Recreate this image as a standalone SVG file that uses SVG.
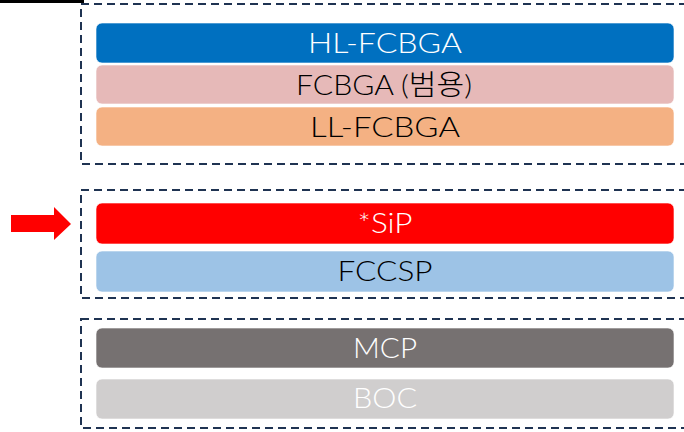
<svg xmlns="http://www.w3.org/2000/svg" width="684" height="432" viewBox="0 0 684 432">
  <defs>
    <style>
      .group { fill: none; stroke: #1F3352; stroke-width: 2; stroke-dasharray: 8 5; }
      .bar { stroke: #ffffff; stroke-width: 1; stroke-opacity: 0.6; }
      .lbl { font-family: "Lato", "Noto Sans CJK KR", sans-serif; font-size: 28px; font-weight: 300; text-anchor: middle; }
      .dark { fill: #000000; }
      .light { fill: #ffffff; }
    </style>
  </defs>
  <rect width="684" height="432" fill="#ffffff"/>
  <!-- top rule -->
  <rect x="0" y="0" width="84" height="3" fill="#000000"/>

  <!-- tier frames -->
  <g id="tier-high">
    <rect class="group" x="81" y="4" width="620" height="160"/>
  </g>
  <g id="tier-mid">
    <rect class="group" x="81" y="190" width="620" height="108"/>
  </g>
  <g id="tier-low">
    <rect class="group" x="81" y="319" width="620" height="109"/>
  </g>

  <g id="hl-fcbga">
    <rect class="bar" x="96" y="23" width="578" height="40" rx="6" fill="#0070C0"/>
    <text class="lbl light" x="385" y="53" textLength="154" lengthAdjust="spacingAndGlyphs">HL-FCBGA</text>
  </g>
  <g id="fcbga">
    <rect class="bar" x="96" y="65" width="578" height="39" rx="6" fill="#E6B9B8"/>
    <text class="lbl dark" x="384" y="95" textLength="176" lengthAdjust="spacingAndGlyphs">FCBGA (범용)</text>
  </g>
  <g id="ll-fcbga">
    <rect class="bar" x="96" y="107" width="578" height="39" rx="6" fill="#F4B183"/>
    <text class="lbl dark" x="385" y="137" textLength="150" lengthAdjust="spacingAndGlyphs">LL-FCBGA</text>
  </g>
  <g id="sip">
    <rect class="bar" x="96" y="203" width="578" height="41" rx="6" fill="#FF0000"/>
    <text class="lbl light" x="385" y="233" textLength="55" lengthAdjust="spacingAndGlyphs">*SiP</text>
  </g>
  <g id="fccsp">
    <rect class="bar" x="96" y="251" width="578" height="41" rx="6" fill="#9DC3E6"/>
    <text class="lbl dark" x="385" y="281" textLength="95" lengthAdjust="spacingAndGlyphs">FCCSP</text>
  </g>
  <g id="mcp">
    <rect class="bar" x="96" y="328" width="578" height="40" rx="6" fill="#767171"/>
    <text class="lbl light" x="385" y="358" textLength="64" lengthAdjust="spacingAndGlyphs">MCP</text>
  </g>
  <g id="boc">
    <rect class="bar" x="96" y="379" width="578" height="40" rx="6" fill="#D0CECE"/>
    <text class="lbl light" x="385" y="408" textLength="64" lengthAdjust="spacingAndGlyphs">BOC</text>
  </g>

  <!-- pointer -->
  <g id="connectors">
    <polygon points="11,215 54,215 54,207 71,224 54,240 54,232 11,232" fill="#FF0000"/>
  </g>
</svg>
